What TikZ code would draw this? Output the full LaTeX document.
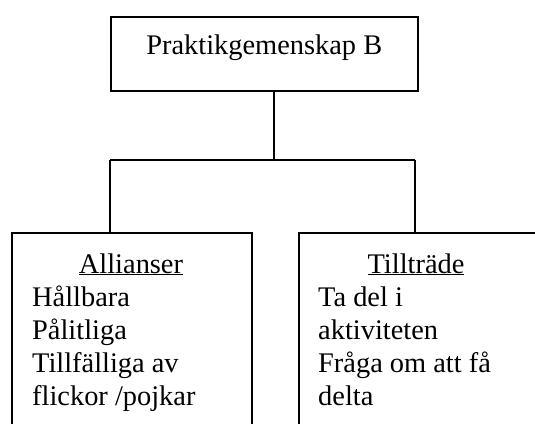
\documentclass[tikz,border=0pt]{standalone}
\usepackage{fontspec}
\setmainfont{Liberation Serif}
\begin{document}
\begin{tikzpicture}[x=1pt,y=-1pt,
  every node/.style={font=\fontsize{28.4}{33}\selectfont},
  orgbox/.style={draw, line width=1.5pt, inner sep=0pt},
  link/.style={line width=1.5pt}]
\useasboundingbox (0,0) rectangle (535,423);
\clip (0,0) rectangle (535,423);

% top box with its title
\node[orgbox, anchor=north west, minimum width=307, text height=38, text depth=36]
  (top) at (110,16) {Praktikgemenskap B};

% the two lower boxes run past the page edge
\node[orgbox, anchor=north west, minimum width=240, minimum height=240] (left) at (11,232) {};
\node[orgbox, anchor=north west, minimum width=240, minimum height=240] (right) at (298,232) {};

% box contents (base anchor of a multi-line node sits on its last line)
\node[anchor=base, inner sep=0pt] (lefthead) at (131,273) {\underline{Allianser}};
\node[anchor=base west, align=left, inner sep=0pt] (leftbody) at (32,405)
  {Hållbara\\Pålitliga\\Tillfälliga av\\flickor /pojkar};
\node[anchor=base, inner sep=0pt] (righthead) at (416,273) {\underline{Tillträde}};
\node[anchor=base west, align=left, inner sep=0pt] (rightbody) at (318,405)
  {Ta del i\\aktiviteten\\Fråga om att få\\delta};

% connectors
\coordinate (jM) at (274,160);
\coordinate (jL) at (110,160);
\coordinate (jR) at (415,160);
\draw[link] (top.south -| jM) -- (jM);
\draw[link] (jL) -- (jR);
\draw[link] (jL) -- (jL |- left.north);
\draw[link] (jR) -- (jR |- right.north);
\end{tikzpicture}
\end{document}
